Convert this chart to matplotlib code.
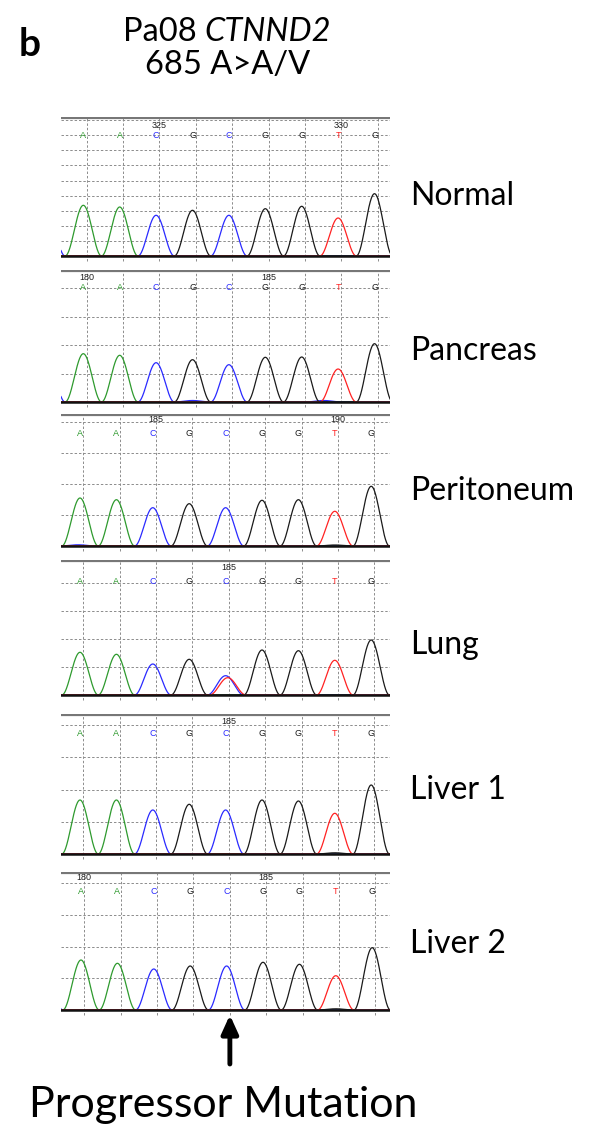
import matplotlib
matplotlib.use('Agg')
import matplotlib.pyplot as plt
import numpy as np

# base calls shown in every trace, plus the off-screen neighbours at both ends
bases = list("AACGCGGTG")
left_base, right_base = 'C', 'A'
edge_height = 45

samples = ['Normal', 'Pancreas', 'Peritoneum', 'Lung', 'Liver 1', 'Liver 2']

# peak heights (in px above the baseline)
normal     = [50.7, 49.0, 40.7, 45.7, 40.7, 47.3, 49.7, 38.0, 62.3]
pancreas   = [48.3, 46.7, 39.3, 42.3, 37.3, 44.7, 45.0, 33.0, 58.3]
peritoneum = [48.0, 46.3, 38.3, 42.3, 38.3, 45.7, 46.3, 34.7, 59.7]
lung       = [42.7, 40.7, 31.0, 35.7, 19.3, 45.0, 44.3, 34.7, 55.0]
liver1     = [54.0, 54.0, 44.0, 49.7, 44.0, 54.0, 53.0, 40.7, 69.0]
liver2     = [50.0, 46.7, 41.0, 44.0, 44.0, 47.7, 45.7, 34.3, 62.3]
heights = [normal, pancreas, peritoneum, lung, liver1, liver2]

# minor peaks: (channel, base index, height)
minor = [
    [],
    [('C', 3.0, 1.5), ('C', 6.6, 1.5)],
    [('C', -0.05, 1.2), ('G', 7.0, 1.0)],
    [('T', 4.06, 17.3)],
    [('G', 7.0, 1.2)],
    [('G', 7.0, 1.2)],
]

# position numbers: base index -> label
pos_labels = [
    {2: '325', 7: '330'},
    {0: '180', 5: '185'},
    {2: '185', 7: '190'},
    {4: '185'},
    {4: '185'},
    {0: '180', 5: '185'},
]
mutation_index = 4

colors = {'A': '#2e9a2e', 'C': '#2a2aff', 'G': '#1a1a1a', 'T': '#ff2222'}

# layout in pixels of the 590x1132 image
W, H = 590, 1132
left_px, right_px = 61, 390
step = 36.4
layout = [
    dict(top=117, base=256, x0=83.3, num=125, let=135, grid=15.1, label=196),
    dict(top=270, base=402, x0=83.3, num=277, let=288, grid=28.5, label=351),
    dict(top=414, base=546, x0=80.0, num=420, let=433, grid=31.0, label=491),
    dict(top=560, base=695, x0=80.0, num=567, let=582, grid=28.0, label=645),
    dict(top=714, base=854, x0=80.0, num=721, let=734, grid=32.2, label=790),
    dict(top=872, base=1010, x0=81.0, num=877, let=892, grid=31.7, label=944),
]
WIDTH = 0.5


def trace(x, peaks):
    y = np.zeros_like(x)
    for p, h in peaks:
        d = np.abs(x - p)
        m = d < WIDTH
        y[m] += h * np.cos(np.pi * d[m] / (2 * WIDTH)) ** 2
    return y


fig = plt.figure(figsize=(W / 100, H / 100), dpi=100)
over = fig.add_axes([0, 0, 1, 1])
over.set_xlim(0, W)
over.set_ylim(H, 0)
over.axis('off')

for k, L in enumerate(layout):
    hpx = L['base'] - L['top']
    below = 6
    ax = fig.add_axes([left_px / W, 1 - (L['base'] + below) / H,
                       (right_px - left_px) / W, (hpx + below) / H])
    ax.axis('off')
    xmin = (left_px - L['x0']) / step
    xmax = (right_px - L['x0']) / step
    ax.set_xlim(xmin, xmax)
    ax.set_ylim(-below, hpx)

    # grid
    gx = np.arange(0, 9) + 0.09
    for g in gx:
        ax.plot([g, g], [-4.5, hpx], color='#8c8c8c', lw=0.7, ls=(0, (2.5, 2)), zorder=1)
    gy = np.arange(L['grid'], hpx - 2, L['grid'])
    for g in gy:
        ax.plot([xmin, xmax], [g, g], color='#8c8c8c', lw=0.7, ls=(0, (2.5, 2)), zorder=1)
    ax.plot([xmin, xmax], [hpx - 0.5, hpx - 0.5], color='#777777', lw=1.6, zorder=1)

    # traces
    x = np.linspace(xmin, xmax, 1200)
    for ch in 'ACGT':
        peaks = [(i, h) for i, (b, h) in enumerate(zip(bases, heights[k])) if b == ch]
        if left_base == ch:
            peaks.append((-1, edge_height))
        if right_base == ch:
            peaks.append((9, edge_height))
        peaks += [(p, h) for c, p, h in minor[k] if c == ch]
        ax.plot(x, trace(x, peaks), color=colors[ch], lw=0.9, zorder=2)
    ax.plot([xmin, xmax], [0, 0], color='#111111', lw=1.8, zorder=3)

    # base calls and position numbers
    for i, b in enumerate(bases):
        ax.text(i, L['base'] - L['let'], b, color=colors[b], fontsize=6.5,
                family='Liberation Sans', ha='center', va='center', zorder=4)
    for i, s in pos_labels[k].items():
        ax.text(i + 0.09, L['base'] - L['num'], s, color='#222222', fontsize=6.5,
                family='Liberation Sans', ha='center', va='center', zorder=4)

    over.text(410, L['label'], samples[k], fontsize=23, family='Lato',
              ha='left', va='center')

# titles
over.text(19, 45, 'b', fontsize=28, family='Lato', fontweight='bold', ha='left', va='center')
t1 = over.text(0, 32, 'Pa08 ', fontsize=23.5, family='Lato', ha='left', va='center')
t2 = over.text(0, 32, 'CTNND2', fontsize=23.5, family='Lato', style='italic',
               ha='left', va='center')
fig.canvas.draw()
r = fig.canvas.get_renderer()
w1 = t1.get_window_extent(r).width
w2 = t2.get_window_extent(r).width
start = 227 - (w1 + w2) / 2
t1.set_x(start)
t2.set_x(start + w1)
over.text(228, 65, '685 A>A/V', fontsize=23.5, family='Lato', ha='center', va='center')

# mutation arrow
last = layout[-1]
ax_x = last['x0'] + mutation_index * step + 0.09 * step
over.annotate('', xy=(ax_x, 1015), xytext=(ax_x, 1064),
              arrowprops=dict(arrowstyle='-|>,head_width=0.5,head_length=1.1',
                              lw=3.5, color='black', shrinkA=0, shrinkB=0))
over.text(223, 1105, 'Progressor Mutation', fontsize=31, family='Lato',
          ha='center', va='center')

fig.savefig('out.png', dpi=100)
